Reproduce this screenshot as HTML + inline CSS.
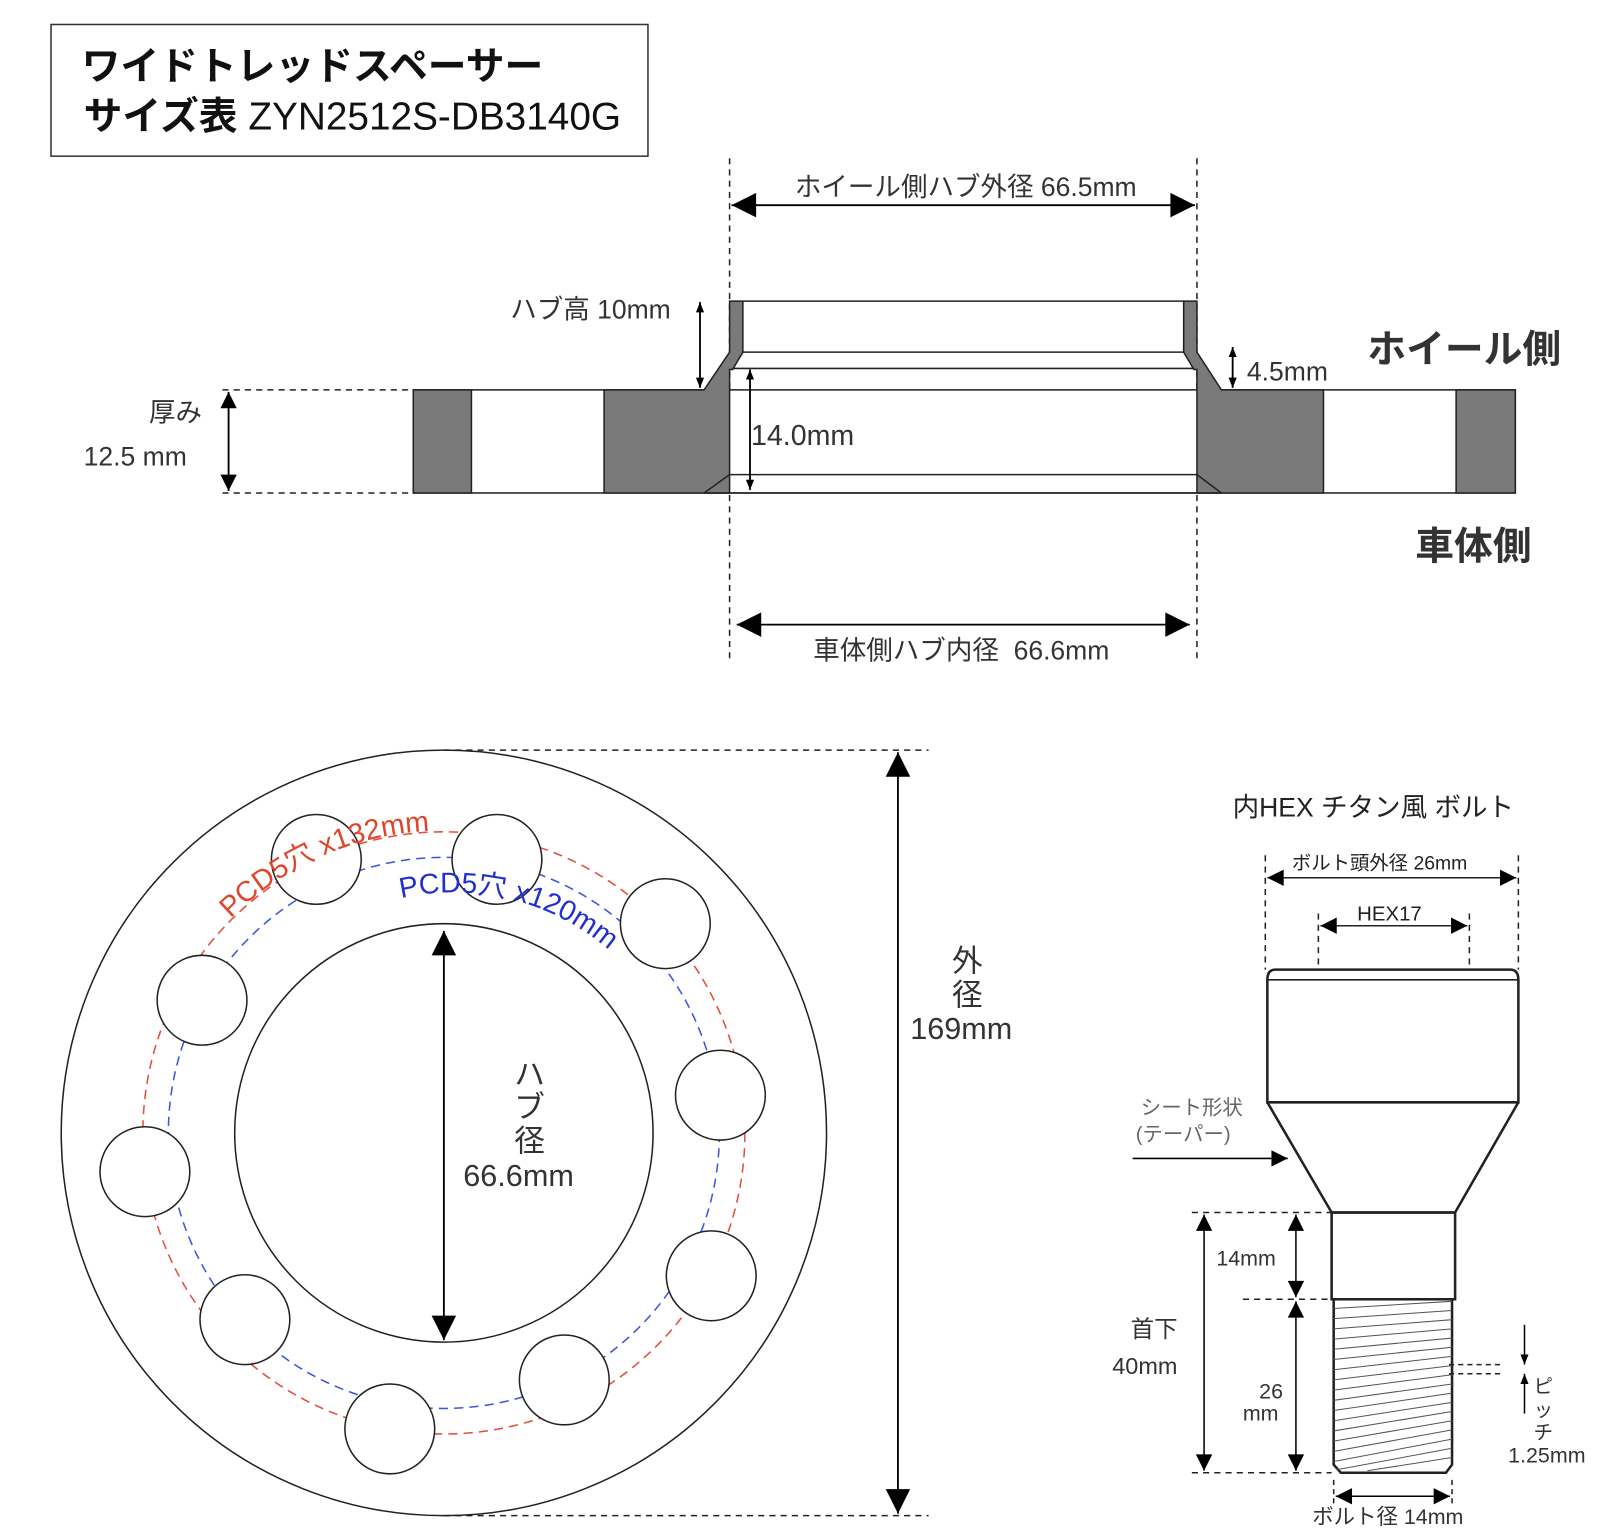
<!DOCTYPE html>
<html><head><meta charset="utf-8"><style>
html,body{margin:0;padding:0;background:#fff;}
svg{display:block;}
text{font-family:"Liberation Sans","Noto Sans CJK JP",sans-serif;}
</style></head><body>
<svg width="1600" height="1533" viewBox="0 0 1568 1502" preserveAspectRatio="none" xmlns="http://www.w3.org/2000/svg">
<defs>
<marker id="a" viewBox="0 0 10 10" refX="10" refY="5" markerWidth="10" markerHeight="10" markerUnits="userSpaceOnUse" orient="auto-start-reverse"><path d="M0,1 L10,5 L0,9 z" fill="#000"/></marker>
<marker id="b" viewBox="0 0 10 10" refX="10" refY="5" markerWidth="30" markerHeight="24" markerUnits="userSpaceOnUse" orient="auto-start-reverse"><path d="M0,0 L10,5 L0,10 z" fill="#000"/></marker>
<marker id="c" viewBox="0 0 10 10" refX="10" refY="5" markerWidth="22" markerHeight="16" markerUnits="userSpaceOnUse" orient="auto-start-reverse"><path d="M0,0 L10,5 L0,10 z" fill="#000"/></marker>
</defs>

<rect x="50" y="24" width="585" height="129" fill="#fff" stroke="#333" stroke-width="1.5"/>
<text x="80" y="78" font-size="38" font-weight="bold" fill="#111">ワイドトレッドスペーサー</text>
<text x="82" y="127" font-size="38" fill="#111"><tspan font-weight="bold">サイズ表</tspan> ZYN2512S-DB3140G</text>

<g stroke="#222" stroke-width="1.5">
<line x1="715" y1="155" x2="715" y2="645" stroke-dasharray="6,5"/>
<line x1="1173" y1="155" x2="1173" y2="645" stroke-dasharray="6,5"/>
<line x1="218" y1="382" x2="405" y2="382" stroke-dasharray="6,5"/>
<line x1="218" y1="483" x2="405" y2="483" stroke-dasharray="6,5"/>
<rect x="405" y="382" width="1080" height="101" fill="#fff"/>
<rect x="405" y="382" width="57" height="101" fill="#7a7a7a"/>
<rect x="1427" y="382" width="58" height="101" fill="#7a7a7a"/>
<polygon points="592,382 690,382 715,345 715,295 728,295 728,345 718,362 715,362 715,483 592,483" fill="#7a7a7a"/>
<polygon points="1297,382 1197,382 1173,345 1173,295 1160,295 1160,345 1170,362 1173,362 1173,483 1297,483" fill="#7a7a7a"/>
<line x1="728" y1="295" x2="1160" y2="295"/>
<line x1="728" y1="345" x2="1160" y2="345"/>
<line x1="718" y1="361" x2="1170" y2="361"/>
<line x1="715" y1="465" x2="1173" y2="465"/>
<line x1="690" y1="483" x2="1197" y2="483"/>
<line x1="690" y1="483" x2="715" y2="465"/>
<line x1="1197" y1="483" x2="1173" y2="465"/>
</g>
<g stroke="#000" stroke-width="1.8" fill="none">
<line x1="717" y1="201" x2="1171" y2="201" marker-start="url(#b)" marker-end="url(#b)"/>
<line x1="722" y1="612" x2="1166" y2="612" marker-start="url(#b)" marker-end="url(#b)"/>
<line x1="686" y1="296" x2="686" y2="380" marker-start="url(#a)" marker-end="url(#a)"/>
<line x1="1208" y1="340" x2="1208" y2="380" marker-start="url(#a)" marker-end="url(#a)"/>
<line x1="735" y1="362" x2="735" y2="480" marker-start="url(#a)" marker-end="url(#a)"/>
<line x1="224" y1="384" x2="224" y2="481" marker-start="url(#c)" marker-end="url(#c)"/>
</g>
<g font-size="26" fill="#333">
<text x="779" y="192">ホイール側ハブ外径 66.5mm</text>
<text x="797" y="646">車体側ハブ内径&#160; 66.6mm</text>
<text x="500" y="312">ハブ高 10mm</text>
<text x="1222" y="373">4.5mm</text>
<text x="736" y="436" font-size="28">14.0mm</text>
<text x="146" y="413">厚み</text>
<text x="82" y="456">12.5 mm</text>
</g>
<text x="1340" y="355" font-size="38" font-weight="bold" fill="#333">ホイール側</text>
<text x="1387" y="548" font-size="38" font-weight="bold" fill="#333">車体側</text>

<g fill="none" stroke="#222" stroke-width="1.5">
<line x1="435" y1="735" x2="910" y2="735" stroke-dasharray="6,5"/>
<line x1="435" y1="1485" x2="910" y2="1485" stroke-dasharray="6,5"/>
<circle cx="435" cy="1110" r="375"/>
<circle cx="435" cy="1110" r="205"/>
<circle cx="435" cy="1110" r="295" stroke="#e0503a" stroke-dasharray="9,6"/>
<circle cx="435" cy="1110" r="270" stroke="#3a55e0" stroke-dasharray="9,6"/>
</g>
<g fill="#fff" stroke="#222" stroke-width="1.5">
<circle cx="310" cy="842" r="44"/><circle cx="487" cy="842" r="44"/>
<circle cx="652" cy="905" r="44"/><circle cx="706" cy="1073" r="44"/>
<circle cx="697" cy="1250" r="44"/><circle cx="553" cy="1352" r="44"/>
<circle cx="382" cy="1400" r="44"/><circle cx="240" cy="1293" r="44"/>
<circle cx="142" cy="1148" r="44"/><circle cx="198" cy="980" r="44"/>
</g>
<g stroke="#000" stroke-width="1.8">
<line x1="435" y1="912" x2="435" y2="1313" marker-start="url(#b)" marker-end="url(#b)"/>
<line x1="880" y1="737" x2="880" y2="1483" marker-start="url(#b)" marker-end="url(#b)"/>
</g>
<path id="pr" d="M 226 900 A 296 296 0 0 1 470 816" fill="none"/>
<path id="pb" d="M 393 880 A 234 234 0 0 1 640 980" fill="none"/>
<text font-size="28" fill="#e0442a"><textPath href="#pr">PCD5穴 x132mm</textPath></text>
<text font-size="28" fill="#2030d0"><textPath href="#pb">PCD5穴 x120mm</textPath></text>
<g font-size="30" fill="#333">
<text x="504" y="1063">ハ</text><text x="504" y="1095">ブ</text><text x="504" y="1128">径</text>
<text x="454" y="1162">66.6mm</text>
<text x="933" y="952">外</text><text x="933" y="985">径</text>
<text x="892" y="1018">169mm</text>
</g>

<text x="1208" y="800" font-size="26" fill="#222">内HEX チタン風 ボルト</text>
<text x="1266" y="852" font-size="19" fill="#222">ボルト頭外径 26mm</text>
<text x="1330" y="902" font-size="20" fill="#222">HEX17</text>
<g stroke="#222" stroke-width="1.5" fill="none">
<line x1="1240" y1="838" x2="1240" y2="950" stroke-dasharray="6,5"/>
<line x1="1488" y1="838" x2="1488" y2="950" stroke-dasharray="6,5"/>
<line x1="1292" y1="895" x2="1292" y2="945" stroke-dasharray="6,5"/>
<line x1="1440" y1="895" x2="1440" y2="945" stroke-dasharray="6,5"/>
<line x1="1242" y1="860" x2="1486" y2="860" marker-start="url(#c)" marker-end="url(#c)"/>
<line x1="1294" y1="907" x2="1438" y2="907" marker-start="url(#c)" marker-end="url(#c)"/>
<path d="M1250,950 L1480,950 Q1488,950 1488,960 L1488,1080 L1242,1080 L1242,960 Q1242,950 1250,950 Z" stroke-width="2.5"/>
<line x1="1242" y1="960" x2="1488" y2="960"/>
<path d="M1242,1080 L1305,1188 L1426,1188 L1488,1080" stroke-width="2.5"/>
<rect x="1305" y="1188" width="121" height="85" stroke-width="2.5"/>
<path d="M1307,1273 L1307,1435 L1314,1443 L1417,1443 L1423,1435 L1423,1273" stroke-width="2.5"/>
<g stroke="#555" stroke-width="1">
<line x1="1307" y1="1282" x2="1423" y2="1275"/><line x1="1307" y1="1292" x2="1423" y2="1284"/>
<line x1="1307" y1="1302" x2="1423" y2="1293"/><line x1="1307" y1="1312" x2="1423" y2="1302"/>
<line x1="1307" y1="1322" x2="1423" y2="1311"/><line x1="1307" y1="1332" x2="1423" y2="1320"/>
<line x1="1307" y1="1342" x2="1423" y2="1329"/><line x1="1307" y1="1352" x2="1423" y2="1338"/>
<line x1="1307" y1="1362" x2="1423" y2="1347"/><line x1="1307" y1="1372" x2="1423" y2="1356"/>
<line x1="1307" y1="1382" x2="1423" y2="1365"/><line x1="1307" y1="1392" x2="1423" y2="1374"/>
<line x1="1307" y1="1402" x2="1423" y2="1383"/><line x1="1307" y1="1412" x2="1423" y2="1392"/>
<line x1="1307" y1="1422" x2="1423" y2="1401"/><line x1="1307" y1="1432" x2="1423" y2="1410"/>
<line x1="1310" y1="1440" x2="1423" y2="1419"/><line x1="1340" y1="1441" x2="1423" y2="1428"/>
</g>
<line x1="1168" y1="1188" x2="1305" y2="1188" stroke-dasharray="6,5"/>
<line x1="1218" y1="1273" x2="1305" y2="1273" stroke-dasharray="6,5"/>
<line x1="1168" y1="1443" x2="1305" y2="1443" stroke-dasharray="6,5"/>
<line x1="1307" y1="1450" x2="1307" y2="1475" stroke-dasharray="5,4"/>
<line x1="1423" y1="1450" x2="1423" y2="1475" stroke-dasharray="5,4"/>
<line x1="1420" y1="1337" x2="1470" y2="1337" stroke-dasharray="5,4"/>
<line x1="1420" y1="1346" x2="1470" y2="1346" stroke-dasharray="5,4"/>
<line x1="1180" y1="1190" x2="1180" y2="1441" marker-start="url(#c)" marker-end="url(#c)" stroke="#000"/>
<line x1="1270" y1="1190" x2="1270" y2="1271" marker-start="url(#c)" marker-end="url(#c)" stroke="#000"/>
<line x1="1270" y1="1275" x2="1270" y2="1441" marker-start="url(#c)" marker-end="url(#c)" stroke="#000"/>
<line x1="1309" y1="1466" x2="1421" y2="1466" marker-start="url(#c)" marker-end="url(#c)" stroke="#000"/>
<line x1="1110" y1="1135" x2="1262" y2="1135" marker-end="url(#c)" stroke="#000"/>
<line x1="1494" y1="1298" x2="1494" y2="1337" marker-end="url(#a)" stroke="#000"/>
<line x1="1494" y1="1385" x2="1494" y2="1346" marker-end="url(#a)" stroke="#000"/>
</g>
<g fill="#333">
<text x="1118" y="1092" font-size="20" fill="#666">シート形状</text>
<text x="1113" y="1118" font-size="20" fill="#666">(テーパー)</text>
<text x="1192" y="1240" font-size="21">14mm</text>
<text x="1108" y="1310" font-size="23">首下</text>
<text x="1090" y="1346" font-size="23">40mm</text>
<text x="1234" y="1370" font-size="21">26</text>
<text x="1218" y="1392" font-size="21">mm</text>
<text x="1503" y="1365" font-size="19">ピ</text>
<text x="1503" y="1388" font-size="19">ッ</text>
<text x="1503" y="1410" font-size="19">チ</text>
<text x="1478" y="1433" font-size="21">1.25mm</text>
<text x="1286" y="1493" font-size="21">ボルト径 14mm</text>
</g>
</svg>
</body></html>
